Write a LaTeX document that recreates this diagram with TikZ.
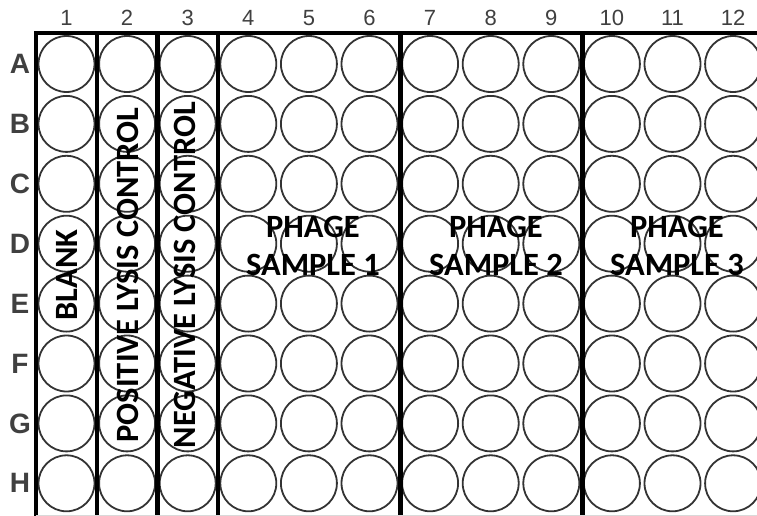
\documentclass[tikz,border=0pt]{standalone}
\usepackage{fontspec}
\setmainfont{Carlito}
\newfontfamily\axisfont{Liberation Sans}
\usetikzlibrary{positioning}

\begin{document}
\begin{tikzpicture}[x=1pt, y=-1pt,
  well/.style={circle, draw=black!80, line width=1.8pt, minimum size=56pt, inner sep=0pt},
  collab/.style={font=\axisfont\fontsize{22}{22}\selectfont, text=black!75},
  rowlab/.style={font=\axisfont\bfseries\fontsize{28}{28}\selectfont, text=black!75},
  grp/.style={font=\bfseries\fontsize{32.5}{38}\selectfont, align=center, inner sep=0pt},
  wall/.style={line width=4.5pt, black}]
\useasboundingbox (0,0) rectangle (757,516);
% wells, row labels and column labels
\foreach \r [count=\j] in {A,...,H} {
  \foreach \c in {1,...,12}
    \node[well] (well-\r\c) at ({66.5+60.6*(\c-1)}, {64+59.9*(\j-1)}) {};
  \node[rowlab] (row-\r) at (20, {64+59.9*(\j-1)}) {\r};
}
\foreach \c in {1,...,12}
  \node[collab] (col-\c) at ({66.5+60.6*(\c-1)}, 18) {\c};
% plate walls
\draw[wall] (36,516) -- (36,33) -- (757,33);
\foreach \x in {97,157.5,218,400.5,582.5}
  \draw[wall] (\x,33) -- (\x,516);
\draw[black!15, line width=0.8pt] (36,515) -- (757,515);
% group labels
\node[grp, rotate=90] (blank) at (66.5,275) {BLANK};
\node[grp, rotate=90] (pos) at (127.5,275) {POSITIVE LYSIS CONTROL};
\node[grp, rotate=90] (neg) at (185,275) {NEGATIVE LYSIS CONTROL};
\node[grp] (ph1) at (313,246) {PHAGE\\SAMPLE 1};
\node[grp] (ph2) at (496,246) {PHAGE\\SAMPLE 2};
\node[grp] (ph3) at (677,246) {PHAGE\\SAMPLE 3};
\end{tikzpicture}
\end{document}
